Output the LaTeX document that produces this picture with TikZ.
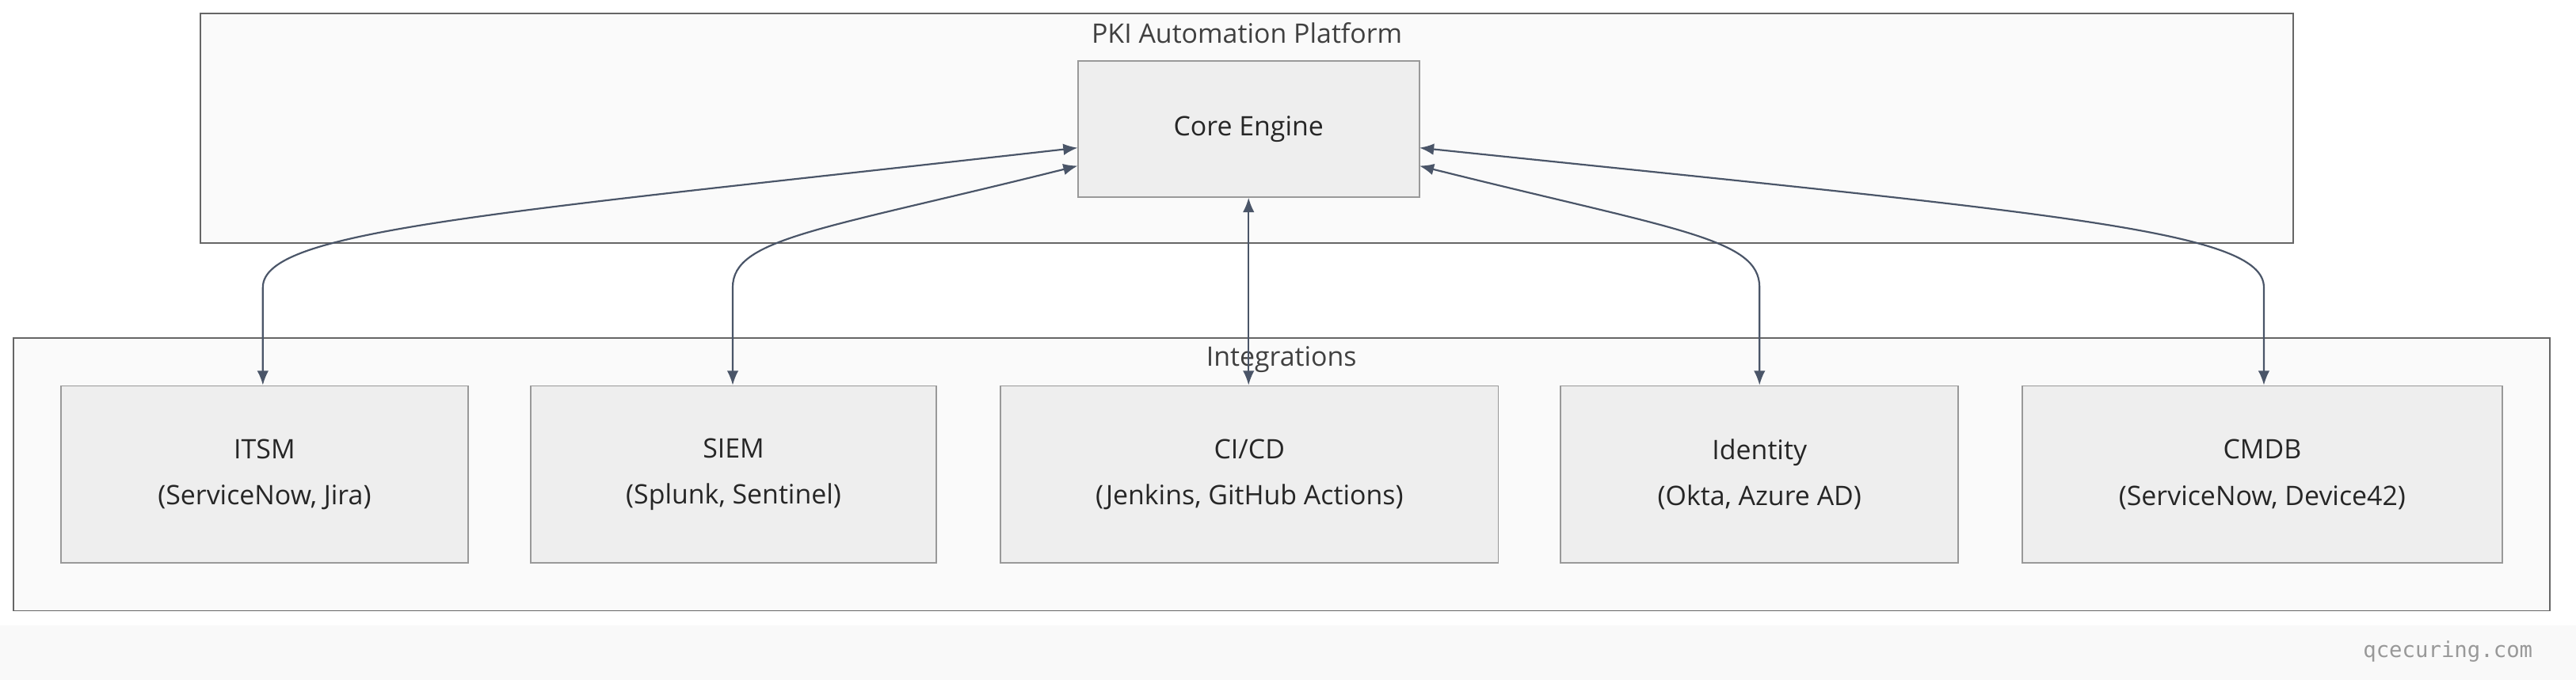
\documentclass[tikz,border=0pt]{standalone}
\usepackage{fontspec}
\setmainfont{Open Sans}
\setmonofont{DejaVu Sans Mono}
\usetikzlibrary{arrows.meta}
\definecolor{edgec}{HTML}{4A5568}
\definecolor{boxf}{HTML}{EEEEEE}
\definecolor{boxd}{HTML}{999999}
\definecolor{grpf}{HTML}{FAFAFA}
\definecolor{grpd}{HTML}{666666}
\begin{document}
\begin{tikzpicture}[x=0.02cm,y=-0.02cm,
  font=\fontsize{9.3}{12}\selectfont,
  every node/.style={inner sep=0pt},
  group/.style={draw=grpd,fill=grpf,line width=0.5pt},
  block/.style={draw=boxd,fill=boxf,line width=0.5pt,align=center,text=black!85},
  link/.style={draw=edgec,line width=0.6pt,{Latex[length=5pt,width=4pt]}-{Latex[length=5pt,width=4pt]}}]
  \useasboundingbox (0,0) rectangle (1568,414);
  \fill[gray!5] (0,381) rectangle (1568,414);
  \node[font=\ttfamily\fontsize{7.5}{9}\selectfont,text=gray!80] (site) at (1490,397) {qcecuring.com};

  % groups
  \draw[group] (122,8) rectangle (1396,148);
  \node[text=black!75] (ptitle) at (759,20) {PKI Automation Platform};
  \draw[group] (8,206) rectangle (1552,372);
  \node[text=black!75] (ititle) at (780,219) {Integrations};

  % blocks
  \node[block,minimum width=4.16cm,minimum height=1.66cm] (core) at (760,78.5) {Core Engine};
  \node[block,minimum width=4.96cm,minimum height=2.16cm] (itsm) at (161,289) {ITSM\\[4pt](ServiceNow, Jira)};
  \node[block,minimum width=4.94cm,minimum height=2.16cm] (siem) at (446.5,289) {SIEM\\[4pt](Splunk, Sentinel)};
  \node[block,minimum width=6.06cm,minimum height=2.16cm] (cicd) at (760.5,289) {CI/CD\\[4pt](Jenkins, GitHub Actions)};
  \node[block,minimum width=4.84cm,minimum height=2.16cm] (idp) at (1071,289) {Identity\\[4pt](Okta, Azure AD)};
  \node[block,minimum width=5.84cm,minimum height=2.16cm] (cmdb) at (1377,289) {CMDB\\[4pt](ServiceNow, Device42)};

  % connectors
  \coordinate (cw1) at (656,90);
  \coordinate (cw2) at (656,101);
  \coordinate (ce1) at (864,90);
  \coordinate (ce2) at (864,101);
  \path[link] (cw1) .. controls (300,130) and (160,140) .. (160,175) -- (itsm.north -| 160,0);
  \path[link] (cw2) .. controls (500,140) and (446,145) .. (446,175) -- (siem.north -| 446,0);
  \path[link] (core.south) -- (cicd.north -| core.south);
  \path[link] (ce2) .. controls (1020,140) and (1071,145) .. (1071,175) -- (idp.north -| 1071,0);
  \path[link] (ce1) .. controls (1250,130) and (1378,140) .. (1378,175) -- (cmdb.north -| 1378,0);
\end{tikzpicture}
\end{document}
